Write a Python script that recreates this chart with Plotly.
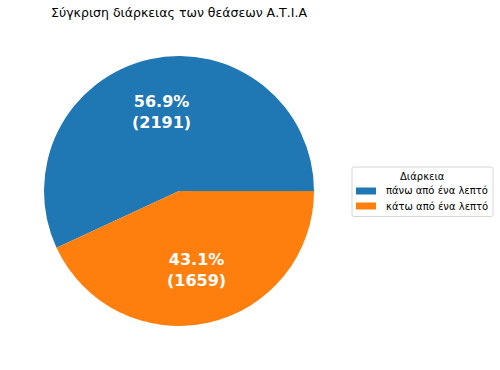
import math
import plotly.graph_objects as go

labels = ["πάνω από ένα λεπτό", "κάτω από ένα λεπτό"]
values = [2191, 1659]
colors = ["#1f77b4", "#ff7f0e"]
title = "Σύγκριση διάρκειας των θεάσεων Α.Τ.Ι.Α"
legend_title = "Διάρκεια"

W, H = 500, 370
cx_px, cy_px, r_px = 179, 191, 135
dom_x = [(cx_px - r_px) / W, (cx_px + r_px) / W]
dom_y = [1 - (cy_px + r_px) / H, 1 - (cy_px - r_px) / H]

total = sum(values)
# plotly: with counterclockwise direction the first slice ends at `rotation`
# (clockwise degrees from 12 o'clock); we want it to start at 3 o'clock.
end_angle_math = 360 * values[0] / total
rotation = 90 - end_angle_math

fig = go.Figure(go.Pie(
    labels=labels, values=values, marker=dict(colors=colors),
    sort=False, direction="counterclockwise", rotation=rotation,
    textinfo="none", hoverinfo="skip", showlegend=False,
    domain=dict(x=dom_x, y=dom_y),
))


def px(x):
    return x / W


def py(y):
    return 1 - y / H


start = 0.0
annotations = []
for v in values:
    frac = v / total
    mid = math.radians((start + frac / 2) * 360)
    start += frac
    x = cx_px + 0.6 * r_px * math.cos(mid)
    y = cy_px - 0.6 * r_px * math.sin(mid)
    annotations.append(dict(
        x=px(x), y=py(y), xref="paper", yref="paper", showarrow=False,
        xanchor="center", yanchor="middle",
        text=f"<b>{frac*100:.1f}%<br>({v})</b>",
        font=dict(family="DejaVu Sans", size=16, color="white"),
        align="center",
    ))

# custom legend (matplotlib style) built from labels/colors
lx0, ly0, lx1, ly1 = 352, 167, 493, 216.5
rr = 2
shapes = [dict(
    type="path", xref="paper", yref="paper",
    path=(f"M {px(lx0+rr)},{py(ly0)} L {px(lx1-rr)},{py(ly0)} "
          f"Q {px(lx1)},{py(ly0)} {px(lx1)},{py(ly0+rr)} "
          f"L {px(lx1)},{py(ly1-rr)} Q {px(lx1)},{py(ly1)} {px(lx1-rr)},{py(ly1)} "
          f"L {px(lx0+rr)},{py(ly1)} Q {px(lx0)},{py(ly1)} {px(lx0)},{py(ly1-rr)} "
          f"L {px(lx0)},{py(ly0+rr)} Q {px(lx0)},{py(ly0)} {px(lx0+rr)},{py(ly0)} Z"),
    line=dict(color="#d6d6d6", width=1), fillcolor="white", layer="above",
)]
annotations.append(dict(
    x=px((lx0 + lx1) / 2), y=py(176), xref="paper", yref="paper", showarrow=False,
    xanchor="center", yanchor="middle", text=legend_title,
    font=dict(family="DejaVu Sans", size=10, color="black"),
))
for i, (lab, col) in enumerate(zip(labels, colors)):
    yc = 191 + i * 15
    shapes.append(dict(
        type="rect", xref="paper", yref="paper",
        x0=px(356), x1=px(376), y0=py(yc - 3.5), y1=py(yc + 3.5),
        fillcolor=col, line=dict(width=0), layer="above",
    ))
    annotations.append(dict(
        x=px(384), y=py(yc), xref="paper", yref="paper", showarrow=False,
        xanchor="left", yanchor="middle", text=lab,
        font=dict(family="DejaVu Sans", size=10, color="black"),
    ))

fig.update_layout(
    width=W, height=H, margin=dict(l=0, r=0, t=0, b=0),
    paper_bgcolor="white", plot_bgcolor="white",
    font=dict(family="DejaVu Sans", color="black"),
    title=dict(text=title, x=px(cx_px), xanchor="center", y=py(13), yanchor="middle",
               font=dict(size=12.5)),
    showlegend=False,
    shapes=shapes,
    annotations=annotations,
)

fig.write_html("out.html")
